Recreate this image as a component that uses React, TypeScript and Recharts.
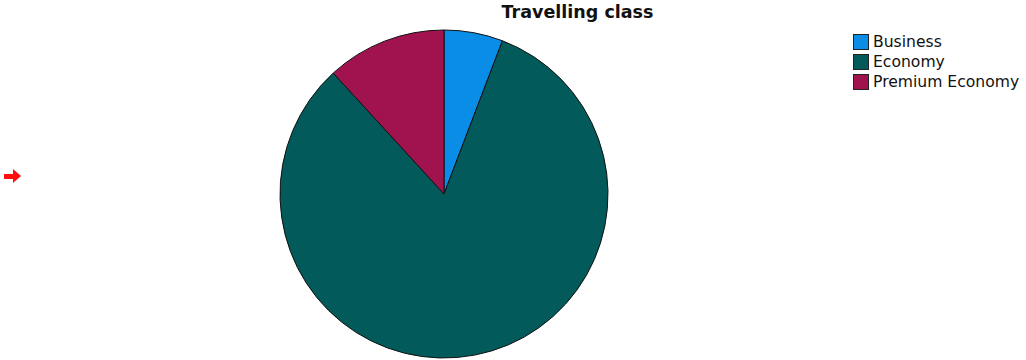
import { Cell, Pie, PieChart } from "recharts";

const classes = ["Business", "Economy", "Premium Economy"];
const shares = [5.8, 82.4, 11.8];
const classColors = ["#0a8de6", "#035a5a", "#a0134f"];

const data = classes.map((name, i) => ({ name, value: shares[i] }));

function ClassLegend() {
  return (
    <div
      style={{
        position: "absolute",
        left: 853,
        top: 32,
        fontFamily: "'DejaVu Sans', sans-serif",
        fontSize: 15.6,
        color: "#111",
        whiteSpace: "nowrap",
      }}
    >
      {classes.map((name, i) => (
        <div key={name} style={{ display: "flex", alignItems: "center", height: 20 }}>
          <span
            style={{
              width: 16,
              height: 16,
              background: classColors[i],
              border: "1px solid #222",
              boxSizing: "border-box",
              marginRight: 4,
            }}
          />
          <span>{name}</span>
        </div>
      ))}
    </div>
  );
}

export default function App() {
  return (
    <div style={{ position: "absolute", left: 0, top: 0, width: 1026, height: 360, background: "#fff" }}>
      <PieChart width={1026} height={360} margin={{ top: 0, right: 0, bottom: 0, left: 0 }}>
        <Pie
          data={data}
          dataKey="value"
          nameKey="name"
          cx={444}
          cy={194}
          outerRadius={164}
          startAngle={90}
          endAngle={-270}
          stroke="#111"
          strokeWidth={1}
          isAnimationActive={false}
        >
          {data.map((d, i) => (
            <Cell key={d.name} fill={classColors[i]} />
          ))}
        </Pie>
      </PieChart>
      <div
        style={{
          position: "absolute",
          left: 0,
          top: 2,
          width: 1155,
          textAlign: "center",
          fontFamily: "'DejaVu Sans', sans-serif",
          fontWeight: 700,
          fontSize: 17.5,
          color: "#111",
        }}
      >
        Travelling class
      </div>
      <svg style={{ position: "absolute", left: 0, top: 163 }} width={24} height={24}>
        <polygon points="4,11 13,11 13,6 21,13 13,20 13,16 4,16" fill="#ff1010" />
      </svg>
      <ClassLegend />
    </div>
  );
}
